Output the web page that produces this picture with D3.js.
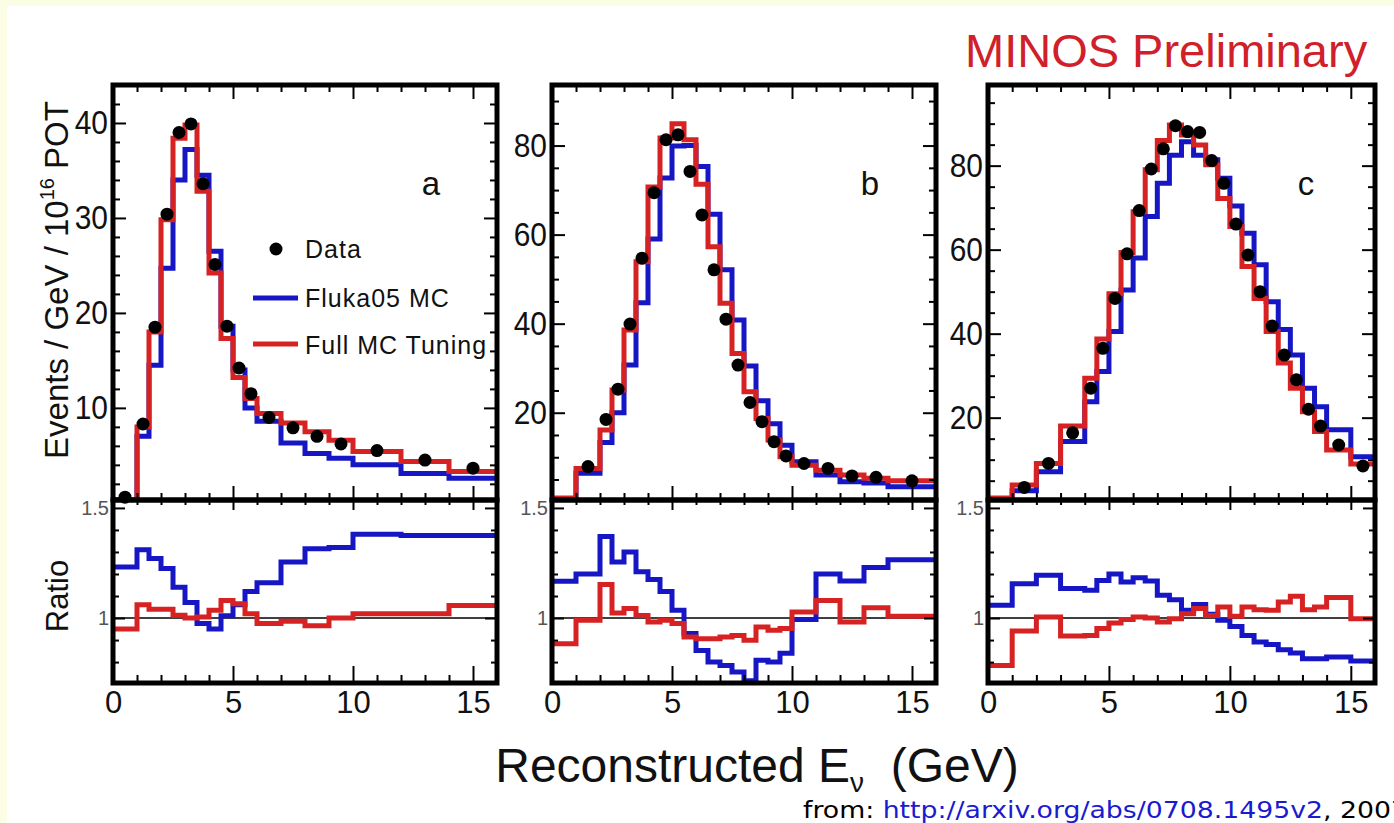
<!DOCTYPE html>
<html>
<head>
<meta charset="utf-8">
<script src="https://cdn.jsdelivr.net/npm/d3@7"></script>
<style>
  body { margin: 0; background: #fbfde4; }
  text { font-family: "Liberation Sans", Arial, Helvetica, sans-serif; }
</style>
</head>
<body>
<svg id="chart" width="1394" height="823"></svg>
<script>
// ---- data (Events / GeV / 1e16 POT, and Data/MC ratio) ----
// panel a
var edgesA  = [0,1,1.5,2,2.5,3,3.5,4,4.5,5,5.5,6,7,8,9,10,12,14,16];
var dataA   = [0.6,8.3,18.5,30.4,39.0,39.9,33.6,25.1,18.6,14.2,11.5,9.0,7.9,7.0,6.2,5.5,4.5,3.65];
var tunedA  = [0.3,8.0,18.0,29.8,38.4,39.8,32.8,24.2,17.3,13.2,11.0,9.4,8.4,7.5,6.6,5.4,4.35,3.3];
var flukaA  = [0.3,7.0,14.5,24.7,34.0,37.2,34.5,26.5,18.6,14.0,10.0,8.6,6.3,5.2,4.7,4.0,3.1,2.6];
var rFlukaA = [1.232,1.31,1.27,1.225,1.14,1.07,0.975,0.95,1.01,1.06,1.12,1.16,1.255,1.315,1.32,1.38,1.375,1.375];
var rTunedA = [0.95,1.06,1.04,1.04,1.013,1.0,1.005,1.035,1.08,1.065,1.02,0.975,0.985,0.965,1.0,1.02,1.02,1.057];

// panel b
var edgesB  = [0,1,2,2.5,3,3.5,4,4.5,5,5.5,6,6.5,7,7.5,8,8.5,9,9.5,10,11,12,13,14,16];
var dataB   = [null,7.9,18.5,25.3,39.9,54.7,69.4,81.3,82.4,74.2,64.4,52.1,41.0,30.7,22.3,18.0,13.5,10.3,8.6,7.5,5.8,5.5,4.7];
var tunedB  = [0.8,7.5,16.1,25.1,38.6,53.9,70.7,81.7,84.9,81.3,71.3,57.3,44.6,33.3,24.7,18.7,13.9,10.1,8.2,7.1,6.0,5.3,4.7];
var flukaB  = [0.8,6.4,13.3,20.0,30.7,44.7,59.0,72.7,79.9,80.0,75.3,64.6,52.1,40.8,30.5,22.7,17.5,12.7,9.0,6.0,4.5,4.2,3.4];
var rFlukaB = [1.167,1.20,1.37,1.255,1.30,1.21,1.175,1.12,1.035,0.93,0.853,0.80,0.785,0.755,0.715,0.808,0.80,0.84,0.993,1.20,1.168,1.23,1.265];
var rTunedB = [0.883,0.99,1.152,1.023,1.043,1.012,0.982,0.99,0.975,0.914,0.906,0.906,0.914,0.921,0.899,0.959,0.944,0.952,1.027,1.08,0.982,1.047,1.008];

// panel c
var edgesC  = [0,1,2,3,4,4.5,5,5.5,6,6.5,7,7.5,8,8.5,9,9.5,10,10.5,11,11.5,12,12.5,13,13.5,14,15,16];
var dataC   = [null,3.4,9.1,16.4,27.0,36.5,48.4,59.0,69.3,79.2,84.0,89.5,88.1,87.9,81.2,75.8,66.1,58.7,50.0,41.8,34.9,29.0,22.0,18.0,13.5,8.5];
var tunedC  = [0.8,4.0,9.1,18.0,29.4,38.7,49.5,59.3,69.0,79.0,86.0,89.7,87.3,84.9,80.2,72.2,65.5,56.0,48.4,40.5,33.0,27.0,21.4,16.7,12.3,9.0];
var flukaC  = [0.8,2.6,7.1,14.3,23.8,31.0,40.5,50.4,58.0,67.9,75.8,82.5,85.7,82.5,81.4,77.0,70.4,63.9,56.4,47.6,41.0,34.9,27.0,22.6,17.1,10.7];
var rFlukaC = [1.058,1.156,1.194,1.134,1.126,1.171,1.20,1.164,1.183,1.168,1.103,1.083,1.035,1.062,1.017,0.99,0.962,0.921,0.891,0.88,0.856,0.841,0.815,0.815,0.823,0.805];
var rTunedC = [0.785,0.941,1.005,0.918,0.921,0.952,0.977,0.993,1.005,1.0,0.982,0.997,1.02,1.043,1.012,1.05,1.008,1.05,1.038,1.035,1.073,1.099,1.038,1.05,1.093,0.997];

var xMajor = [0,5,10,15];
var rMajor = [1,1.5];
var rMinor = [0.8,0.9,1.1,1.2,1.3,1.4];

// ---- layout ----
var W = 1394, H = 823;
var top0 = 85, mid = 500, bot = 683;
var blue = "#1616c4", red = "#d62222";

var panels = [
  {left:113, right:497, edges:edgesA, data:dataA, fluka:flukaA, tuned:tunedA, rFluka:rFlukaA, rTuned:rTunedA,
   yDomain:[0.3,44], yMajor:[10,20,30,40], yStep:2, label:"a"},
  {left:552, right:936, edges:edgesB, data:dataB, fluka:flukaB, tuned:tunedB, rFluka:rFlukaB, rTuned:rTunedB,
   yDomain:[0.4,93.6], yMajor:[20,40,60,80], yStep:5, label:"b"},
  {left:988, right:1375, edges:edgesC, data:dataC, fluka:flukaC, tuned:tunedC, rFluka:rFlukaC, rTuned:rTunedC,
   yDomain:[0.4,99.2], yMajor:[20,40,60,80], yStep:5, label:"c"}
];

var svg = d3.select("svg#chart");
svg.append("rect").attr("x",7).attr("y",6).attr("width",W-7).attr("height",H-6).attr("fill","white");

var defs = svg.append("defs");

// step outline of a histogram
function histPath(x, y, edges, vals) {
  var pts = vals.map(function(v,i){ return [edges[i], v]; });
  pts.push([edges[edges.length-1], vals[vals.length-1]]);
  return d3.line().x(function(d){ return x(d[0]); }).y(function(d){ return y(d[1]); }).curve(d3.curveStepAfter)(pts);
}

// style an axis group: no domain line, thick ticks
function styleAxis(g, fontSize, scaleX) {
  g.select(".domain").remove();
  g.selectAll(".tick line").attr("stroke","#000").attr("stroke-width",2);
  g.attr("font-family", null).attr("font-size", null);
  g.selectAll(".tick text").attr("fill","#111").style("font-size", fontSize + "px");
  if (scaleX) {
    g.selectAll(".tick text").each(function() {
      var t = d3.select(this);
      t.attr("x", (+t.attr("x") || 0) / scaleX).attr("transform", "scale(" + scaleX + ",1)");
    });
  }
}

function minorsOf(step, max, majors) {
  return d3.range(step, max, step).filter(function(v){
    return !majors.some(function(m){ return Math.abs(m - v) < 1e-6; });
  });
}

panels.forEach(function(p, k) {
  var x = d3.scaleLinear().domain([0,16]).range([p.left, p.right]);
  var y = d3.scaleLinear().domain(p.yDomain).range([mid, top0]);
  var ry = d3.scaleLinear().domain([0.705,1.536]).range([bot, mid]);
  var xMinor = minorsOf(1, 16.5, xMajor);
  var yMinor = minorsOf(p.yStep, p.yDomain[1], p.yMajor);

  defs.append("clipPath").attr("id","clipTop"+k).append("rect")
    .attr("x",p.left).attr("y",top0).attr("width",p.right-p.left).attr("height",mid-top0);
  defs.append("clipPath").attr("id","clipRat"+k).append("rect")
    .attr("x",p.left).attr("y",mid).attr("width",p.right-p.left).attr("height",bot-mid);

  // ---- upper panel ----
  var up = svg.append("g");
  up.append("path").attr("d", histPath(x, y, p.edges, p.fluka)).attr("fill","none")
    .attr("stroke",blue).attr("stroke-width",5).attr("clip-path","url(#clipTop"+k+")");
  up.append("path").attr("d", histPath(x, y, p.edges, p.tuned)).attr("fill","none")
    .attr("stroke",red).attr("stroke-width",5).attr("clip-path","url(#clipTop"+k+")");

  var pts = p.data.map(function(v,i){ return {x:(p.edges[i]+p.edges[i+1])/2, v:v}; })
    .filter(function(d){ return d.v !== null; });
  up.selectAll("circle").data(pts).enter().append("circle")
    .attr("cx", function(d){ return x(d.x); })
    .attr("cy", function(d){ return y(d.v); })
    .attr("r", 6.5).attr("fill","#000");

  // axes of upper panel (ticks pointing inward)
  styleAxis(up.append("g").attr("transform","translate(0,"+mid+")")
    .call(d3.axisBottom(x).tickValues(xMajor).tickSize(-14).tickFormat("")));
  styleAxis(up.append("g").attr("transform","translate(0,"+mid+")")
    .call(d3.axisBottom(x).tickValues(xMinor).tickSize(-7).tickFormat("")));
  styleAxis(up.append("g").attr("transform","translate(0,"+top0+")")
    .call(d3.axisTop(x).tickValues(xMajor).tickSize(-14).tickFormat("")));
  styleAxis(up.append("g").attr("transform","translate(0,"+top0+")")
    .call(d3.axisTop(x).tickValues(xMinor).tickSize(-7).tickFormat("")));
  styleAxis(up.append("g").attr("transform","translate("+p.left+",0)")
    .call(d3.axisLeft(y).tickValues(p.yMajor).tickSize(-13).tickPadding(5)), 34, 0.88);
  styleAxis(up.append("g").attr("transform","translate("+p.left+",0)")
    .call(d3.axisLeft(y).tickValues(yMinor).tickSize(-7).tickFormat("")));
  styleAxis(up.append("g").attr("transform","translate("+p.right+",0)")
    .call(d3.axisRight(y).tickValues(p.yMajor).tickSize(-13).tickFormat("")));
  styleAxis(up.append("g").attr("transform","translate("+p.right+",0)")
    .call(d3.axisRight(y).tickValues(yMinor).tickSize(-7).tickFormat("")));

  up.append("text").attr("x", p.left + 318).attr("y", 195)
    .attr("text-anchor","middle").style("font-size","33px").attr("fill","#111").text(p.label);

  // ---- ratio panel ----
  var lo = svg.append("g");
  lo.append("line").attr("x1",p.left).attr("x2",p.right).attr("y1",ry(1)).attr("y2",ry(1))
    .attr("stroke","#000").attr("stroke-width",1.6);
  lo.append("path").attr("d", histPath(x, ry, p.edges, p.rFluka)).attr("fill","none")
    .attr("stroke",blue).attr("stroke-width",5).attr("clip-path","url(#clipRat"+k+")");
  lo.append("path").attr("d", histPath(x, ry, p.edges, p.rTuned)).attr("fill","none")
    .attr("stroke",red).attr("stroke-width",5).attr("clip-path","url(#clipRat"+k+")");

  styleAxis(lo.append("g").attr("transform","translate(0,"+bot+")")
    .call(d3.axisBottom(x).tickValues(xMajor).tickSize(-17).tickPadding(8)), 31);
  styleAxis(lo.append("g").attr("transform","translate(0,"+bot+")")
    .call(d3.axisBottom(x).tickValues(xMinor).tickSize(-8).tickFormat("")));
  styleAxis(lo.append("g").attr("transform","translate(0,"+mid+")")
    .call(d3.axisTop(x).tickValues(xMajor).tickSize(-10).tickFormat("")));
  styleAxis(lo.append("g").attr("transform","translate(0,"+mid+")")
    .call(d3.axisTop(x).tickValues(xMinor).tickSize(-5).tickFormat("")));
  var ra = lo.append("g").attr("transform","translate("+p.left+",0)")
    .call(d3.axisLeft(ry).tickValues(rMajor).tickSize(-12).tickPadding(4).tickFormat(d3.format("")));
  styleAxis(ra, 20);
  ra.selectAll(".tick text").attr("fill","#555");
  styleAxis(lo.append("g").attr("transform","translate("+p.left+",0)")
    .call(d3.axisLeft(ry).tickValues(rMinor).tickSize(-6).tickFormat("")));
  styleAxis(lo.append("g").attr("transform","translate("+p.right+",0)")
    .call(d3.axisRight(ry).tickValues(rMajor).tickSize(-12).tickFormat("")));
  styleAxis(lo.append("g").attr("transform","translate("+p.right+",0)")
    .call(d3.axisRight(ry).tickValues(rMinor).tickSize(-6).tickFormat("")));

  // frames
  svg.append("rect").attr("x",p.left).attr("y",top0).attr("width",p.right-p.left).attr("height",mid-top0)
    .attr("fill","none").attr("stroke","#000").attr("stroke-width",5);
  svg.append("rect").attr("x",p.left).attr("y",mid).attr("width",p.right-p.left).attr("height",bot-mid)
    .attr("fill","none").attr("stroke","#000").attr("stroke-width",5);
});

// legend (panel a)
var leg = svg.append("g").style("font-size","25px").style("letter-spacing","1px").attr("fill","#111");
leg.append("circle").attr("cx",276).attr("cy",249).attr("r",6.5).attr("fill","#000");
leg.append("text").attr("x",305).attr("y",258).text("Data");
leg.append("line").attr("x1",253).attr("x2",298).attr("y1",298).attr("y2",298).attr("stroke",blue).attr("stroke-width",5);
leg.append("text").attr("x",305).attr("y",307).text("Fluka05 MC");
leg.append("line").attr("x1",253).attr("x2",298).attr("y1",344).attr("y2",344).attr("stroke",red).attr("stroke-width",5);
leg.append("text").attr("x",305).attr("y",354).text("Full MC Tuning");

// axis titles
var yt = svg.append("text").attr("transform","translate(68,280) rotate(-90)")
  .attr("text-anchor","middle").style("font-size","33px").attr("fill","#111");
yt.append("tspan").text("Events / GeV / 10");
yt.append("tspan").attr("dy",-14).style("font-size","20px").text("16");
yt.append("tspan").attr("dy",14).text(" POT");

svg.append("text").attr("transform","translate(68,596) rotate(-90)")
  .attr("text-anchor","middle").style("font-size","31px").attr("fill","#111").text("Ratio");

var xt = svg.append("text").attr("x",757).attr("y",782).attr("text-anchor","middle")
  .style("font-size","48px").attr("fill","#111");
xt.append("tspan").text("Reconstructed E");
xt.append("tspan").attr("dy",10).style("font-size","28px").text("\u03bd");
xt.append("tspan").attr("dy",-10).text("\u00a0 (GeV)");

svg.append("text").attr("x",965).attr("y",67).style("font-size","47px").attr("fill","#d0202a")
  .text("MINOS Preliminary");

// source line (runs off the right edge, as in the original)
var src = svg.append("text").attr("x",803).attr("y",818)
  .style("font-family","'DejaVu Sans', sans-serif").style("font-size","23px").attr("fill","#000")
  .attr("textLength",605).attr("lengthAdjust","spacingAndGlyphs");
src.append("tspan").text("from: ");
src.append("tspan").attr("fill","#1a1ad0").text("http://arxiv.org/abs/0708.1495v2");
src.append("tspan").text(", 2007");
</script>
</body>
</html>
